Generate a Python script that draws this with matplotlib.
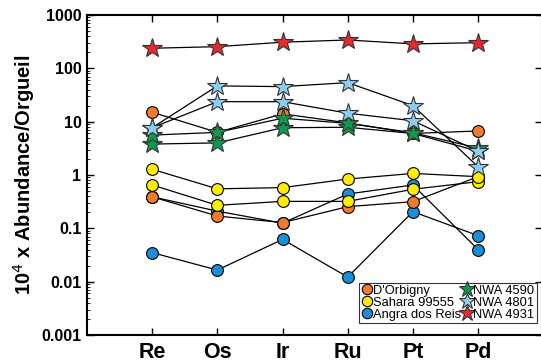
import matplotlib
matplotlib.use("Agg")

import matplotlib.pyplot as plt
from matplotlib.ticker import LogLocator, NullFormatter, FixedLocator
from matplotlib.lines import Line2D

plt.rcParams['font.family'] = ['Liberation Sans', 'DejaVu Sans']

elements = ["Re", "Os", "Ir", "Ru", "Pt", "Pd"]

# D'Orbigny
dorbigny_a = [15, 6.3, 14, 9.5, 6.0, 6.7]
dorbigny_b = [0.39, 0.17, 0.128, 0.255, 0.316, 0.93]
# Sahara 99555
sahara_a = [1.28, 0.55, 0.58, 0.84, 1.07, 0.93]
sahara_b = [0.65, 0.27, 0.32, 0.32, 0.54, 0.75]
# Angra dos Reis
angra_a = [0.035, 0.0165, 0.062, 0.0122, 0.205, 0.073]
angra_b = [0.39, 0.21, 0.125, 0.44, 0.65, 0.04]
# NWA 4590
nwa4590_a = [5.6, 6.3, 11.6, 9.3, 6.2, 3.2]
nwa4590_b = [3.8, 4.0, 7.7, 7.85, 6.0, 2.8]
# NWA 4801
nwa4801_a = [7.7, 46.8, 45.4, 53.9, 20, 1.43]
nwa4801_b = [7.7, 23.7, 23.7, 14.4, 10.4, 2.8]
# NWA 4931
nwa4931 = [238, 255, 309, 340, 287, 303]

orange = "#F07B2E"
yellow = "#FFEC00"
blue = "#1A8FD6"
green = "#0E9A4E"
lightblue = "#8CCDF0"
red = "#E52A2E"

fig = plt.figure(figsize=(5.41, 3.64), dpi=100)
ax = fig.add_axes([0.1608, 0.0797, 0.8410, 0.8791])

x = list(range(len(elements)))

def draw(vals, color, marker, ms):
    ax.plot(x, vals, color="black", lw=0.9, zorder=2)
    ax.plot(x, vals, linestyle="none", marker=marker, ms=ms, mfc=color,
            mec="#333333" if marker == "*" else "black", mew=0.8, zorder=3)

draw(angra_a, blue, "o", 8.5)
draw(angra_b, blue, "o", 8.5)
draw(dorbigny_b, orange, "o", 8.5)
draw(sahara_b, yellow, "o", 8.5)
draw(sahara_a, yellow, "o", 8.5)
draw(dorbigny_a, orange, "o", 8.5)
draw(nwa4590_b, green, "*", 15)
draw(nwa4590_a, green, "*", 15)
draw(nwa4801_b, lightblue, "*", 15)
draw(nwa4801_a, lightblue, "*", 15)
draw(nwa4931, red, "*", 15)

ax.set_yscale("log")
ax.set_ylim(0.001, 1000)
ax.set_xlim(-1, 5.98)
ax.set_xticks(x)
ax.set_xticklabels(elements, fontsize=15.5, fontweight="bold")
ax.yaxis.set_major_locator(FixedLocator([0.001, 0.01, 0.1, 1, 10, 100, 1000]))
ax.set_yticklabels(["0.001", "0.01", "0.1", "1", "10", "100", "1000"],
                   fontsize=11.5, fontweight="bold")
ax.yaxis.set_minor_locator(LogLocator(base=10, subs=range(2, 10), numticks=20))
ax.yaxis.set_minor_formatter(NullFormatter())
ax.tick_params(axis="both", which="major", direction="in", length=5, width=1,
               top=True, right=True, pad=4)
ax.tick_params(axis="y", which="minor", direction="in", length=2.5, width=0.6,
               left=True, right=False)
ax.tick_params(axis="x", pad=5)
for s in ax.spines.values():
    s.set_linewidth(1.5)

ax.set_ylabel("10$^4$ x Abundance/Orgueil", fontsize=14.5, fontweight="bold", labelpad=3)

def h(color, marker, ms):
    return Line2D([], [], linestyle="none", marker=marker, ms=ms, mfc=color,
                  mec="#333333" if marker == "*" else "black", mew=0.8)

handles = [h(orange, "o", 7.5), h(yellow, "o", 7.5), h(blue, "o", 7.5),
           h(green, "*", 12), h(lightblue, "*", 12), h(red, "*", 12)]
labels = ["D'Orbigny", "Sahara 99555", "Angra dos Reis", "NWA 4590", "NWA 4801", "NWA 4931"]
leg = ax.legend(handles, labels, ncol=2, loc="lower right",
                bbox_to_anchor=(0.988, 0.038), fontsize=9.3, frameon=True,
                fancybox=False, edgecolor="black", handletextpad=0.05,
                columnspacing=0.0, labelspacing=0.0, borderpad=0.15,
                handlelength=0.9, borderaxespad=0)
leg.get_frame().set_linewidth(0.8)

fig.savefig("out.png", dpi=100)
